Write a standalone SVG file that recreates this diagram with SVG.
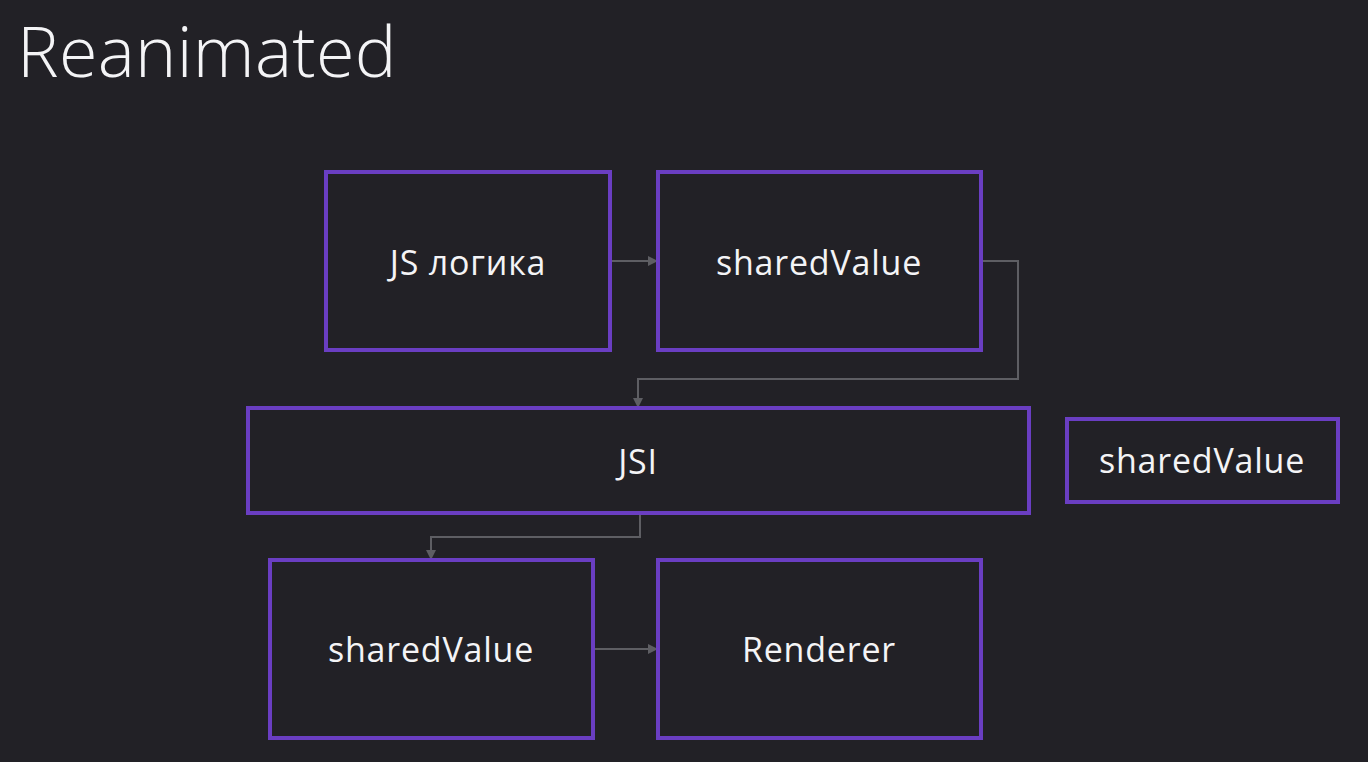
<svg xmlns="http://www.w3.org/2000/svg" width="1368" height="762" viewBox="0 0 1368 762">
<defs>
<style>
.box{fill:none;stroke:#6a3ec2;stroke-width:4}
.lbl{font-family:"Open Sans","Noto Sans","Liberation Sans",sans-serif;font-size:34px;letter-spacing:0.8px;fill:#f4f4f6;text-anchor:middle}
.edge{fill:none;stroke:#5e5e63;stroke-width:2}
</style>
<marker id="ah" markerWidth="10" markerHeight="10" refX="9" refY="5" orient="auto" markerUnits="userSpaceOnUse" viewBox="0 0 10 10">
<path d="M0,0 L10,5 L0,10 z" fill="#5e5e63"/>
</marker>
</defs>
<rect width="1368" height="762" fill="#222126"/>
<text x="17" y="77" font-family="Open Sans,Noto Sans,Liberation Sans,sans-serif" font-weight="300" font-size="70" letter-spacing="0.3" fill="#f4f4f6">Reanimated</text>
<g id="connectors">
<path class="edge" d="M610,261 H657" marker-end="url(#ah)"/>
<path class="edge" d="M981,261 H1018 V379 H638 V407" marker-end="url(#ah)"/>
<path class="edge" d="M640,513 V537 H431 V559" marker-end="url(#ah)"/>
<path class="edge" d="M593,649 H657" marker-end="url(#ah)"/>
</g>
<g id="js-logic"><rect class="box" x="326" y="172" width="284" height="178"/><text class="lbl" x="468" y="275">JS логика</text></g>
<g id="shared-top"><rect class="box" x="658" y="172" width="323" height="178"/><text class="lbl" x="819" y="275">sharedValue</text></g>
<g id="jsi"><rect class="box" x="248" y="408" width="781" height="105"/><text class="lbl" x="638" y="474">JSI</text></g>
<g id="shared-right"><rect class="box" x="1067" y="419" width="271" height="83"/><text class="lbl" x="1202" y="473">sharedValue</text></g>
<g id="shared-bottom"><rect class="box" x="270" y="560" width="323" height="178"/><text class="lbl" x="431" y="662">sharedValue</text></g>
<g id="renderer"><rect class="box" x="658" y="560" width="323" height="178"/><text class="lbl" x="819" y="662">Renderer</text></g>
</svg>
